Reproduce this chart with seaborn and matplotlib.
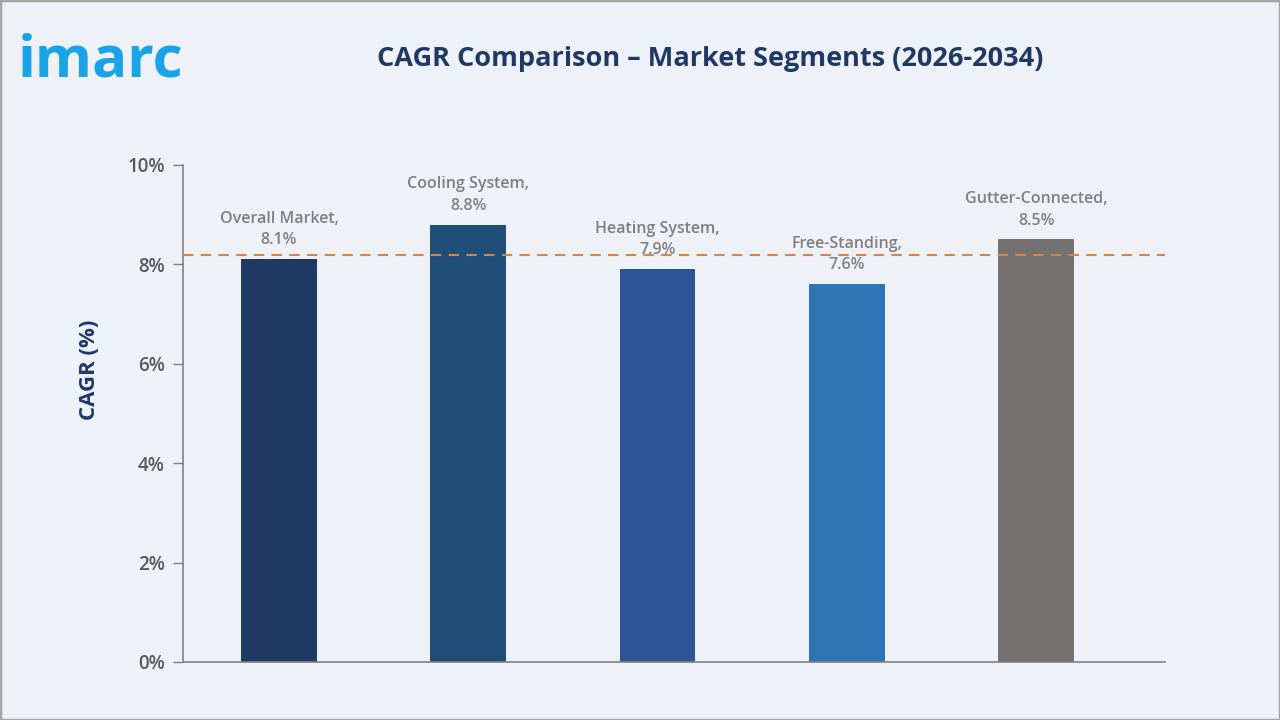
import matplotlib
matplotlib.use("Agg")
import matplotlib.pyplot as plt
import seaborn as sns
import pandas as pd
import numpy as np
from matplotlib.patches import Rectangle

segments = ["Overall Market", "Cooling System", "Heating System", "Free-Standing", "Gutter-Connected"]
cagr = [8.1, 8.8, 7.9, 7.6, 8.5]
colors = ["#1F3864", "#1F4E79", "#2F5597", "#2E75B6", "#767171"]
yticks = [0, 2, 4, 6, 8, 10]
ytick_labels = ["0%", "2%", "4%", "6%", "8%", "10%"]
avg_line = float(np.mean(cagr))

sns.set_theme(style="white")
plt.rcParams['font.family'] = ['Open Sans', 'DejaVu Sans']

bg = "#EEF2F8"
fig = plt.figure(figsize=(12.8, 7.2), dpi=100, facecolor=bg)
fig.patches.append(Rectangle((0, 0), 1, 1, transform=fig.transFigure, fill=False,
                             edgecolor="#A6A6A6", linewidth=2.5))
ax = fig.add_axes([0.143, 0.0806, 0.767, 0.6904])
ax.set_facecolor(bg)

df = pd.DataFrame({"segment": segments, "cagr": cagr})
sns.barplot(data=df, x="segment", y="cagr", hue="segment", palette=colors,
            width=0.40, legend=False, ax=ax, saturation=1, linewidth=0)

ax.set_ylim(0, 10)
ax.set_xlim(-0.507, 4.68)
ax.set_yticks(yticks)
ax.set_yticklabels(ytick_labels, fontsize=13.5, color="#595959", fontweight="semibold")
ax.set_xticks([])
ax.set_xlabel("")
ax.set_ylabel("CAGR (%)", fontsize=16, fontweight="bold", color="#1F3864")
ax.yaxis.set_label_coords(-0.085, 0.588)
ax.tick_params(axis="y", length=7, width=1, color="#808080", direction="out", pad=6, left=True)
for s in ["top", "right"]:
    ax.spines[s].set_visible(False)
for s in ["left", "bottom"]:
    ax.spines[s].set_color("#808080")
    ax.spines[s].set_linewidth(1.2)

ax.axhline(avg_line, color="#E2813F", linestyle=(0, (5, 3.5)), linewidth=1.5, zorder=3)

for i, (seg, v) in enumerate(zip(segments, cagr)):
    ax.text(i, v + 0.22, f"{seg},\n{v}%", ha="center", va="bottom", fontsize=11.5,
            color="#7F7F7F", linespacing=1.45, fontweight="semibold")

fig.text(0.555, 0.918, "CAGR Comparison – Market Segments (2026-2034)", ha="center", va="center",
         fontsize=19.5, fontweight="bold", color="#1F3864")
fig.text(0.014, 0.915, "imarc", ha="left", va="center", fontsize=42, fontweight="bold",
         color="#1BA3E8")

fig.savefig("out.png", dpi=100, facecolor=bg)
